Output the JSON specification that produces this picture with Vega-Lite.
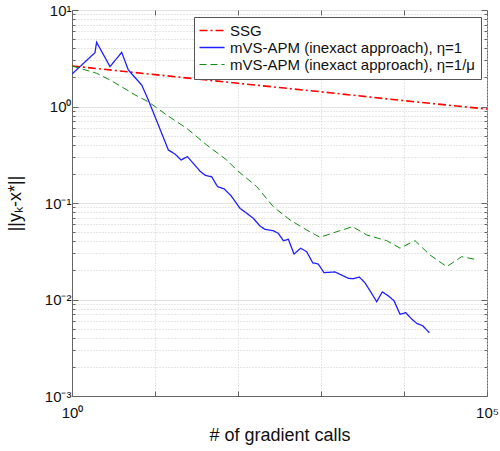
{
  "$schema": "https://vega.github.io/schema/vega-lite/v6.json",
  "width": 415,
  "height": 386,
  "autosize": {"type": "none"},
  "padding": {"left": 72, "top": 10, "right": 13, "bottom": 55},
  "background": "white",
  "config": {
    "view": {"stroke": "#666", "strokeWidth": 1},
    "font": "Liberation Sans",
    "axis": {"domainColor": "#666", "tickColor": "#666", "labelColor": "#111", "titleColor": "#111", "labelFont": "Liberation Sans", "titleFont": "Liberation Sans", "titleFontWeight": "normal"}
  },
  "data": {"values": [
    {"x": 1, "y": 2.63, "s": "SSG"},
    {"x": 10, "y": 2.14, "s": "SSG"},
    {"x": 100, "y": 1.74, "s": "SSG"},
    {"x": 1000, "y": 1.42, "s": "SSG"},
    {"x": 10000, "y": 1.15, "s": "SSG"},
    {"x": 100000, "y": 0.94, "s": "SSG"},
    {"x": 1, "y": 2.17, "s": "mVS-APM (inexact approach), η=1"},
    {"x": 1.89, "y": 3.61, "s": "mVS-APM (inexact approach), η=1"},
    {"x": 1.98, "y": 4.63, "s": "mVS-APM (inexact approach), η=1"},
    {"x": 2.87, "y": 2.59, "s": "mVS-APM (inexact approach), η=1"},
    {"x": 3.97, "y": 3.64, "s": "mVS-APM (inexact approach), η=1"},
    {"x": 4.77, "y": 2.39, "s": "mVS-APM (inexact approach), η=1"},
    {"x": 6.92, "y": 1.67, "s": "mVS-APM (inexact approach), η=1"},
    {"x": 8.3, "y": 1.17, "s": "mVS-APM (inexact approach), η=1"},
    {"x": 14.5, "y": 0.354, "s": "mVS-APM (inexact approach), η=1"},
    {"x": 17.4, "y": 0.322, "s": "mVS-APM (inexact approach), η=1"},
    {"x": 20.6, "y": 0.279, "s": "mVS-APM (inexact approach), η=1"},
    {"x": 24.5, "y": 0.302, "s": "mVS-APM (inexact approach), η=1"},
    {"x": 28.9, "y": 0.258, "s": "mVS-APM (inexact approach), η=1"},
    {"x": 34.8, "y": 0.214, "s": "mVS-APM (inexact approach), η=1"},
    {"x": 40.6, "y": 0.193, "s": "mVS-APM (inexact approach), η=1"},
    {"x": 48.2, "y": 0.187, "s": "mVS-APM (inexact approach), η=1"},
    {"x": 56.6, "y": 0.148, "s": "mVS-APM (inexact approach), η=1"},
    {"x": 68.1, "y": 0.14, "s": "mVS-APM (inexact approach), η=1"},
    {"x": 82.4, "y": 0.119, "s": "mVS-APM (inexact approach), η=1"},
    {"x": 105.7, "y": 0.0881, "s": "mVS-APM (inexact approach), η=1"},
    {"x": 127.4, "y": 0.0782, "s": "mVS-APM (inexact approach), η=1"},
    {"x": 152.9, "y": 0.0694, "s": "mVS-APM (inexact approach), η=1"},
    {"x": 184, "y": 0.0578, "s": "mVS-APM (inexact approach), η=1"},
    {"x": 211, "y": 0.0534, "s": "mVS-APM (inexact approach), η=1"},
    {"x": 266, "y": 0.0516, "s": "mVS-APM (inexact approach), η=1"},
    {"x": 306, "y": 0.0485, "s": "mVS-APM (inexact approach), η=1"},
    {"x": 352, "y": 0.0407, "s": "mVS-APM (inexact approach), η=1"},
    {"x": 404, "y": 0.0421, "s": "mVS-APM (inexact approach), η=1"},
    {"x": 473, "y": 0.0296, "s": "mVS-APM (inexact approach), η=1"},
    {"x": 569, "y": 0.034, "s": "mVS-APM (inexact approach), η=1"},
    {"x": 672, "y": 0.0313, "s": "mVS-APM (inexact approach), η=1"},
    {"x": 795, "y": 0.024, "s": "mVS-APM (inexact approach), η=1"},
    {"x": 927, "y": 0.0233, "s": "mVS-APM (inexact approach), η=1"},
    {"x": 1086, "y": 0.019, "s": "mVS-APM (inexact approach), η=1"},
    {"x": 1474, "y": 0.0193, "s": "mVS-APM (inexact approach), η=1"},
    {"x": 1776, "y": 0.0179, "s": "mVS-APM (inexact approach), η=1"},
    {"x": 2133, "y": 0.0166, "s": "mVS-APM (inexact approach), η=1"},
    {"x": 2449, "y": 0.0164, "s": "mVS-APM (inexact approach), η=1"},
    {"x": 2893, "y": 0.0171, "s": "mVS-APM (inexact approach), η=1"},
    {"x": 3388, "y": 0.0149, "s": "mVS-APM (inexact approach), η=1"},
    {"x": 3969, "y": 0.012, "s": "mVS-APM (inexact approach), η=1"},
    {"x": 4690, "y": 0.00949, "s": "mVS-APM (inexact approach), η=1"},
    {"x": 5480, "y": 0.012, "s": "mVS-APM (inexact approach), η=1"},
    {"x": 6476, "y": 0.0109, "s": "mVS-APM (inexact approach), η=1"},
    {"x": 7580, "y": 0.00972, "s": "mVS-APM (inexact approach), η=1"},
    {"x": 8955, "y": 0.00703, "s": "mVS-APM (inexact approach), η=1"},
    {"x": 10480, "y": 0.0073, "s": "mVS-APM (inexact approach), η=1"},
    {"x": 12380, "y": 0.00628, "s": "mVS-APM (inexact approach), η=1"},
    {"x": 14220, "y": 0.00566, "s": "mVS-APM (inexact approach), η=1"},
    {"x": 16800, "y": 0.00535, "s": "mVS-APM (inexact approach), η=1"},
    {"x": 20170, "y": 0.00453, "s": "mVS-APM (inexact approach), η=1"},
    {"x": 1, "y": 2.63, "s": "mVS-APM (inexact approach), η=1/μ"},
    {"x": 1.98, "y": 2.21, "s": "mVS-APM (inexact approach), η=1/μ"},
    {"x": 2.87, "y": 1.88, "s": "mVS-APM (inexact approach), η=1/μ"},
    {"x": 3.97, "y": 1.6, "s": "mVS-APM (inexact approach), η=1/μ"},
    {"x": 5.74, "y": 1.32, "s": "mVS-APM (inexact approach), η=1/μ"},
    {"x": 8.3, "y": 1.12, "s": "mVS-APM (inexact approach), η=1/μ"},
    {"x": 13.8, "y": 0.817, "s": "mVS-APM (inexact approach), η=1/μ"},
    {"x": 24.1, "y": 0.594, "s": "mVS-APM (inexact approach), η=1/μ"},
    {"x": 42, "y": 0.399, "s": "mVS-APM (inexact approach), η=1/μ"},
    {"x": 73.1, "y": 0.279, "s": "mVS-APM (inexact approach), η=1/μ"},
    {"x": 96.4, "y": 0.22, "s": "mVS-APM (inexact approach), η=1/μ"},
    {"x": 168, "y": 0.148, "s": "mVS-APM (inexact approach), η=1/μ"},
    {"x": 266, "y": 0.0915, "s": "mVS-APM (inexact approach), η=1/μ"},
    {"x": 424, "y": 0.0667, "s": "mVS-APM (inexact approach), η=1/μ"},
    {"x": 672, "y": 0.0525, "s": "mVS-APM (inexact approach), η=1/μ"},
    {"x": 973, "y": 0.0441, "s": "mVS-APM (inexact approach), η=1/μ"},
    {"x": 1545, "y": 0.0504, "s": "mVS-APM (inexact approach), η=1/μ"},
    {"x": 2409, "y": 0.0568, "s": "mVS-APM (inexact approach), η=1/μ"},
    {"x": 3553, "y": 0.0466, "s": "mVS-APM (inexact approach), η=1/μ"},
    {"x": 6194, "y": 0.0407, "s": "mVS-APM (inexact approach), η=1/μ"},
    {"x": 8955, "y": 0.034, "s": "mVS-APM (inexact approach), η=1/μ"},
    {"x": 13580, "y": 0.0407, "s": "mVS-APM (inexact approach), η=1/μ"},
    {"x": 20560, "y": 0.0289, "s": "mVS-APM (inexact approach), η=1/μ"},
    {"x": 32690, "y": 0.0219, "s": "mVS-APM (inexact approach), η=1/μ"},
    {"x": 49550, "y": 0.0278, "s": "mVS-APM (inexact approach), η=1/μ"},
    {"x": 71660, "y": 0.0261, "s": "mVS-APM (inexact approach), η=1/μ"}
  ]},
  "layer": [
    {
      "mark": {"type": "line", "clip": true},
      "encoding": {
        "x": {"field": "x", "type": "quantitative",
          "scale": {"type": "log", "domain": [1, 100000], "nice": false},
          "axis": {
            "orient": "bottom",
            "values": [1, 10, 100, 1000, 10000, 100000],
            "labelExpr": "datum.value == 1 ? '10⁰' : (datum.value == 100000 ? '10⁵' : '')",
            "labelFlush": false,
            "labelFontSize": 15,
            "labelPadding": 14,
            "grid": true,
            "gridColor": "#cfcfcf",
            "gridDash": [1, 2],
            "tickSize": -5,
            "title": "# of gradient calls",
            "titleFontSize": 18,
            "titlePadding": 6
          }
        },
        "y": {"field": "y", "type": "quantitative",
          "scale": {"type": "log", "domain": [0.001, 10], "nice": false},
          "axis": {
            "orient": "left",
            "values": [0.001,0.002,0.003,0.004,0.005,0.006,0.007,0.008,0.009,0.01,0.02,0.03,0.04,0.05,0.06,0.07,0.08,0.09,0.1,0.2,0.3,0.4,0.5,0.6,0.7,0.8,0.9,1,2,3,4,5,6,7,8,9,10],
            "labelExpr": "abs(log(datum.value)/LN10 - round(log(datum.value)/LN10)) < 0.001 ? ('10' + (round(log(datum.value)/LN10) == 1 ? '¹' : round(log(datum.value)/LN10) == 0 ? '⁰' : round(log(datum.value)/LN10) == -1 ? '⁻¹' : round(log(datum.value)/LN10) == -2 ? '⁻²' : '⁻³')) : ''",
            "labelFontSize": 15,
            "labelPadding": 7,
            "grid": true,
            "gridColor": {"condition": {"test": "abs(log(datum.value)/LN10 - round(log(datum.value)/LN10)) < 0.001", "value": "#e2e2e2"}, "value": "#cfcfcf"},
            "gridDash": {"condition": {"test": "abs(log(datum.value)/LN10 - round(log(datum.value)/LN10)) < 0.001", "value": []}, "value": [1, 2]},
            "tickSize": {"condition": {"test": "abs(log(datum.value)/LN10 - round(log(datum.value)/LN10)) < 0.001", "value": -6}, "value": -3},
            "title": "||yₖ-x*||",
            "titleFontSize": 18,
            "titlePadding": 20
          }
        },
        "color": {"field": "s", "type": "nominal",
          "scale": {"domain": ["SSG", "mVS-APM (inexact approach), η=1", "mVS-APM (inexact approach), η=1/μ"], "range": ["#ff0000", "#2020ff", "#108a10"]},
          "legend": {
            "orient": "none", "legendX": 122, "legendY": 7, "title": null,
            "symbolType": "M-1.6,0H3.4", "symbolSize": 100, "symbolStrokeWidth": 1.5,
            "labelOffset": 15, "labelFontSize": 15, "labelFont": "Liberation Sans", "labelLimit": 400, "labelColor": "#111",
            "padding": 6, "strokeColor": "#555", "fillColor": "white", "rowPadding": 1, "cornerRadius": 0
          }
        },
        "strokeDash": {"field": "s", "type": "nominal",
          "scale": {"domain": ["SSG", "mVS-APM (inexact approach), η=1", "mVS-APM (inexact approach), η=1/μ"], "range": [[8, 3, 2, 3], [1, 0], [7, 4]]},
          "legend": {
            "orient": "none", "legendX": 122, "legendY": 7, "title": null,
            "symbolType": "M-1.6,0H3.4", "symbolSize": 100, "symbolStrokeWidth": 1.5,
            "labelOffset": 15, "labelFontSize": 15, "labelFont": "Liberation Sans", "labelLimit": 400, "labelColor": "#111",
            "padding": 6, "strokeColor": "#555", "fillColor": "white", "rowPadding": 1, "cornerRadius": 0
          }
        },
        "strokeWidth": {"field": "s", "type": "nominal",
          "scale": {"domain": ["SSG", "mVS-APM (inexact approach), η=1", "mVS-APM (inexact approach), η=1/μ"], "range": [1.6, 1, 1.1]},
          "legend": null
        }
      }
    },
    {
      "mark": {"type": "point", "opacity": 0},
      "encoding": {
        "x": {"field": "x", "type": "quantitative",
          "axis": {"orient": "top", "values": [1, 10, 100, 1000, 10000, 100000], "labels": false, "grid": false, "domain": false, "tickSize": -5, "title": null}
        },
        "y": {"field": "y", "type": "quantitative",
          "axis": {"orient": "right", "values": [0.001,0.002,0.003,0.004,0.005,0.006,0.007,0.008,0.009,0.01,0.02,0.03,0.04,0.05,0.06,0.07,0.08,0.09,0.1,0.2,0.3,0.4,0.5,0.6,0.7,0.8,0.9,1,2,3,4,5,6,7,8,9,10], "labels": false, "grid": false, "domain": false, "tickSize": {"condition": {"test": "abs(log(datum.value)/LN10 - round(log(datum.value)/LN10)) < 0.001", "value": -6}, "value": -3}, "title": null}
        }
      }
    }
  ],
  "resolve": {"axis": {"x": "independent", "y": "independent"}}
}
